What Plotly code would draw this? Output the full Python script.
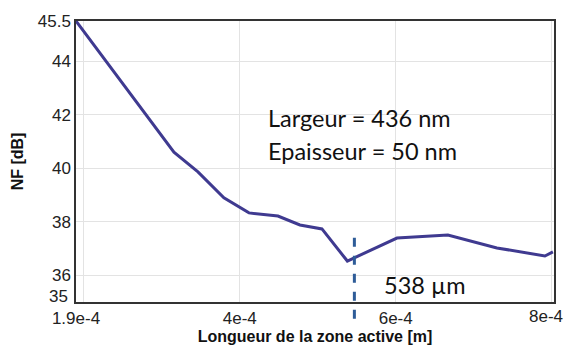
import plotly.graph_objects as go

# Noise figure versus active-zone length
longueur_m = [1.90e-4, 3.156e-4, 3.464e-4, 3.797e-4, 4.118e-4, 4.49e-4, 4.772e-4,
              5.054e-4, 5.38e-4, 6.016e-4, 6.669e-4, 7.298e-4, 7.913e-4, 8.016e-4]
nf_db = [45.5, 40.6, 39.86, 38.89, 38.33, 38.21, 37.88,
         37.73, 36.53, 37.39, 37.50, 37.02, 36.72, 36.87]

x_tickvals = [1.9e-4, 2e-4, 4e-4, 6e-4, 8e-4]
x_ticktext = ["1.9e-4", "", "4e-4", "6e-4", ""]
last_x_label = "8e-4"
y_tickvals = [35, 36, 38, 40, 42, 44, 45.5]
y_ticktext = ["", "36", "38", "40", "42", "44", "45.5"]
y_min_label = "35"

info_lines = ["Largeur = 436 nm", "Epaisseur = 50 nm"]
optimum_x = 5.47e-4
optimum_label = "538 µm"

tick_font = dict(family="Liberation Sans, Arial", size=17, color="#222222")
title_font = dict(family="Liberation Sans, Arial", size=16, color="#111111")
note_font = dict(family="Lato", size=23.5, color="#111111")

fig = go.Figure()
fig.add_trace(go.Scatter(
    x=longueur_m, y=nf_db, mode="lines",
    line=dict(color="#3f3a90", width=3),
    showlegend=False,
))

# dashed marker at the optimum length
fig.add_shape(type="line", xref="x", yref="paper",
              x0=optimum_x, x1=optimum_x, y0=-0.06, y1=0.26,
              line=dict(color="#2e5c98", width=3, dash="dash"))

for i, line in enumerate(info_lines):
    fig.add_annotation(x=0.397, y=0.655 - i * 0.118, xref="paper", yref="paper",
                       text=line, showarrow=False, xanchor="left", yanchor="middle",
                       font=note_font)
fig.add_annotation(x=0.64, y=0.06, xref="paper", yref="paper",
                   text=optimum_label, showarrow=False,
                   xanchor="left", yanchor="middle", font=note_font)

# last x tick label, kept inside the page edge
fig.add_annotation(x=1.0, y=0, xref="paper", yref="paper",
                   text=last_x_label, showarrow=False,
                   xanchor="center", yanchor="top", xshift=-8, yshift=-3,
                   font=tick_font)
# lowest y tick label, nudged up clear of the x labels
fig.add_annotation(x=0, y=0, xref="paper", yref="paper",
                   text=y_min_label, showarrow=False,
                   xanchor="right", yanchor="bottom", xshift=-6, yshift=-6,
                   font=tick_font)

axis_common = dict(
    showline=True, linecolor="#333333", linewidth=1.5, mirror=True,
    showgrid=True, gridcolor="#e3e3e3", gridwidth=1,
    zeroline=False, ticks="", automargin=False,
    tickfont=tick_font,
)

fig.update_xaxes(range=[1.9e-4, 8.03e-4], tickmode="array",
                 tickvals=x_tickvals, ticktext=x_ticktext,
                 title=dict(text="<b>Longueur de la zone active [m]</b>", standoff=2,
                            font=title_font),
                 **axis_common)
fig.update_yaxes(range=[35, 45.5], tickmode="array",
                 tickvals=y_tickvals, ticktext=y_ticktext,
                 title=dict(text="<b>NF [dB]</b>", standoff=10, font=title_font),
                 **axis_common)

fig.update_layout(
    width=564, height=348,
    margin=dict(l=76, r=10, t=21, b=46),
    paper_bgcolor="white", plot_bgcolor="white",
)

fig.write_html("out.html")
